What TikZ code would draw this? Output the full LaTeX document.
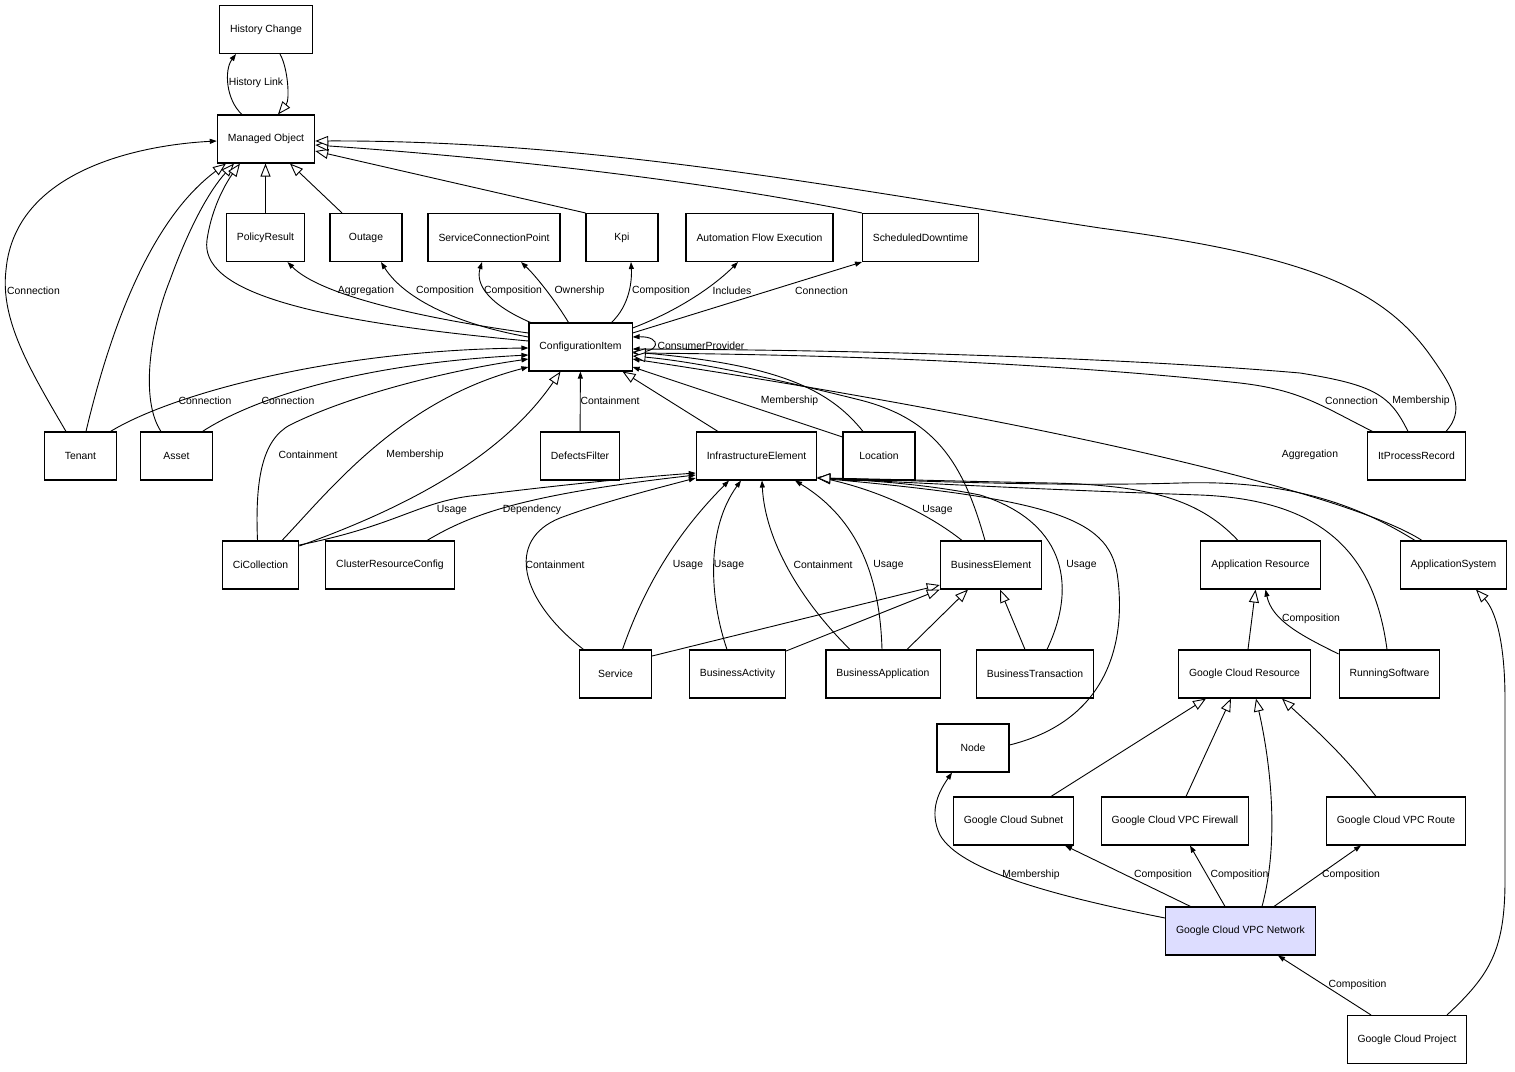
\documentclass[tikz,border=0pt]{standalone}
\usepackage{fontspec}
\setmainfont{Liberation Sans}
\usetikzlibrary{arrows.meta}
\definecolor{vpcfill}{RGB}{221,221,255}
\tikzset{
  box/.style={draw, line width=1.1pt, rectangle, minimum width=72pt, minimum height=48pt,
    inner xsep=10.5pt, font=\fontsize{10.4}{12}\selectfont},
  lbl/.style={inner sep=0pt, font=\fontsize{10.4}{12}\selectfont},
  assoc/.style={line width=0.9pt, -{Triangle[length=7pt,width=5pt]}},
  inherit/.style={line width=0.9pt, -{Triangle[length=13pt,width=10pt,fill=white]}}
}
\begin{document}
\begin{tikzpicture}[x=1pt,y=-1pt]
      \fill[white] (0,0) rectangle (1515,1071);
      \useasboundingbox (0,0) rectangle (1515,1071);
      % classes
      \node[box] (hc) at (266,29.5) {History Change};
      \node[box] (mo) at (266,139) {Managed Object};
      \node[box] (pr) at (265.5,237.5) {PolicyResult};
      \node[box] (outg) at (366,237.5) {Outage};
      \node[box] (scp) at (494,237.5) {ServiceConnectionPoint};
      \node[box] (kpi) at (622,237.5) {Kpi};
      \node[box] (afe) at (759.5,237.5) {Automation Flow Execution};
      \node[box] (sd) at (920.5,237.5) {ScheduledDowntime};
      \node[box] (ci) at (580.5,347) {ConfigurationItem};
      \node[box] (ten) at (80.5,456) {Tenant};
      \node[box] (ast) at (176.5,456) {Asset};
      \node[box] (df) at (580,456) {DefectsFilter};
      \node[box] (ie) at (756.5,456) {InfrastructureElement};
      \node[box] (loc) at (879,456) {Location};
      \node[box] (ipr) at (1416.5,456) {ItProcessRecord};
      \node[box] (cic) at (260.5,565) {CiCollection};
      \node[box] (crc) at (390,565) {ClusterResourceConfig};
      \node[box] (be) at (991,565) {BusinessElement};
      \node[box] (ar) at (1260.5,565) {Application Resource};
      \node[box] (asys) at (1453.5,565) {ApplicationSystem};
      \node[box] (svc) at (615.5,674) {Service};
      \node[box] (ba) at (737.5,674) {BusinessActivity};
      \node[box] (bapp) at (883,674) {BusinessApplication};
      \node[box] (bt) at (1035,674) {BusinessTransaction};
      \node[box] (gcr) at (1244.5,674) {Google Cloud Resource};
      \node[box] (rs) at (1389.5,674) {RunningSoftware};
      \node[box] (nd) at (973,748) {Node};
      \node[box] (sub) at (1013.5,821) {Google Cloud Subnet};
      \node[box] (fw) at (1175,821) {Google Cloud VPC Firewall};
      \node[box] (rt) at (1396,821) {Google Cloud VPC Route};
      \node[box, fill=vpcfill] (vpc) at (1240.5,931) {Google Cloud VPC Network};
      \node[box] (gcp) at (1407,1039.5) {Google Cloud Project};
      % relations
      \begin{scope}[assoc]
        \draw ([xshift=-24pt]mo.north) .. controls (226,100) and (224,70) .. ([xshift=-30pt]hc.south);
        \draw ([xshift=-14.5pt]ten.north) .. controls (30,370) and (0,320) .. (6,270)
          .. controls (15,170) and (140,145) .. ([yshift=-2pt]mo.west);
        \draw ([yshift=14pt]ci.west) .. controls (420,318) and (320,295) .. ([xshift=22pt]pr.south);
        \draw ([yshift=10pt]ci.west) .. controls (460,325) and (405,300) .. ([xshift=15pt]outg.south);
        \draw ([xshift=-50pt]ci.north) .. controls (490,305) and (475,285) .. ([xshift=-12pt]scp.south);
        \draw ([xshift=-12pt]ci.north) .. controls (555,300) and (535,275) .. ([xshift=27pt]scp.south);
        \draw ([xshift=31pt]ci.north) .. controls (630,305) and (632,280) .. ([xshift=9pt]kpi.south);
        \draw ([yshift=19pt]ci.east) .. controls (680,310) and (715,285) .. ([xshift=-21.5pt]afe.south);
        \draw ([yshift=14pt]ci.east) -- ([xshift=-58.5pt]sd.south);
        \draw ([yshift=-5pt]ci.east) .. controls (662,354) and (662,336) .. ([yshift=10pt]ci.east);
        \draw ([xshift=30pt]ten.north) .. controls (170,395) and (330,350) .. ([yshift=-1pt]ci.west);
        \draw ([xshift=26pt]ast.north) .. controls (235,410) and (330,365) .. ([yshift=-8pt]ci.west);
        \draw ([xshift=-3pt]cic.north) .. controls (255,480) and (262,440) .. (290,425)
          .. controls (350,395) and (450,370) .. ([yshift=-12pt]ci.west);
        \draw ([xshift=21.5pt]cic.north) .. controls (330,490) and (400,400) .. ([yshift=-20pt]ci.west);
        \draw (df) -- (ci);
        \draw ([yshift=19pt]loc.west) -- ([yshift=-20pt]ci.east);
        \draw ([xshift=-44pt]ipr.north) .. controls (1320,405) and (1300,390) .. (1240,383)
          .. controls (1100,368) and (900,355) .. ([yshift=-6pt]ci.east);
        \draw ([xshift=-8.5pt]ipr.north) .. controls (1390,395) and (1375,385) .. (1300,373)
          .. controls (1150,360) and (900,350) .. ([yshift=-2pt]ci.east);
        \draw ([xshift=-31.5pt]asys.north) .. controls (1360,500) and (1100,430) .. ([yshift=-12pt]ci.east);
        \draw ([yshift=20pt]cic.east) .. controls (400,525) and (420,500) .. (480,495)
          .. controls (560,485) and (640,477) .. ([yshift=-17pt]ie.west);
        \draw ([xshift=37pt]crc.north) .. controls (470,515) and (520,495) .. ([yshift=-19pt]ie.west);
        \draw ([xshift=-32pt]svc.north) .. controls (520,600) and (505,540) .. (560,518)
          .. controls (600,503) and (650,490) .. ([yshift=-22pt]ie.west);
        \draw ([xshift=7pt]svc.north) .. controls (650,570) and (690,520) .. ([xshift=-27.5pt]ie.south);
        \draw ([xshift=-10.5pt]ba.north) .. controls (710,600) and (705,530) .. ([xshift=-15.5pt]ie.south);
        \draw ([xshift=-33pt]bapp.north) .. controls (800,600) and (765,540) .. ([xshift=5.5pt]ie.south);
        \draw ([xshift=-1pt]bapp.north) .. controls (880,580) and (860,520) .. ([xshift=38.5pt]ie.south);
        \draw ([xshift=-29pt]be.north) .. controls (930,515) and (880,490) .. ([yshift=-21pt]ie.east);
        \draw ([xshift=12pt]bt.north) .. controls (1080,580) and (1060,520) .. (980,495)
          .. controls (920,483) and (860,480) .. ([yshift=-22pt]ie.east);
        \draw ([yshift=20pt]rs.west) .. controls (1300,635) and (1272,620) .. ([xshift=5pt]ar.south);
        \draw ([xshift=-50pt]vpc.north) -- ([xshift=51.5pt]sub.south);
        \draw ([xshift=-15.5pt]vpc.north) -- ([xshift=15pt]fw.south);
        \draw ([xshift=33.5pt]vpc.north) -- ([xshift=-35pt]rt.south);
        \draw ([yshift=13pt]vpc.west) .. controls (1050,895) and (960,870) .. (940,835)
          .. controls (928,810) and (940,790) .. ([xshift=-21pt]nd.south);
        \draw ([xshift=-36pt]gcp.north) -- ([xshift=37.5pt]vpc.south);
      \end{scope}
      % generalisations
      \begin{scope}[inherit]
        \draw ([xshift=14pt]hc.south) .. controls (288,68) and (290,100) .. ([xshift=12pt]mo.north);
        \draw ([xshift=5.5pt]ten.north) .. controls (110,330) and (150,220) .. ([xshift=-40pt]mo.south);
        \draw ([xshift=-15.5pt]ast.north) .. controls (140,400) and (150,330) .. (170,280)
          .. controls (190,225) and (210,190) .. ([xshift=-32pt]mo.south);
        \draw ([yshift=6pt]ci.west) .. controls (300,320) and (200,290) .. (207,240)
          .. controls (212,205) and (228,180) .. ([xshift=-26pt]mo.south);
        \draw (pr.north) -- (pr.north |- mo.south);
        \draw ([xshift=-24pt]outg.north) -- ([xshift=24pt]mo.south);
        \draw (kpi.north west) -- ([yshift=-12pt]mo.east);
        \draw (sd.north west) .. controls (700,180) and (500,158) .. ([yshift=-6pt]mo.east);
        \draw ([xshift=29.5pt]ipr.north) .. controls (1465,410) and (1455,390) .. (1430,355)
          .. controls (1380,285) and (1300,255) .. (1100,228)
          .. controls (850,190) and (600,140) .. ([yshift=-2pt]mo.east);
        \draw ([yshift=19pt]cic.east) .. controls (400,510) and (500,460) .. ([xshift=-20pt]ci.south);
        \draw ([xshift=-38.5pt]ie.north) -- ([xshift=42pt]ci.south);
        \draw ([xshift=-16pt]loc.north) .. controls (830,390) and (780,365) .. ([yshift=-5pt]ci.east);
        \draw ([xshift=-6pt]be.north) .. controls (965,470) and (940,420) .. (860,400)
          .. controls (780,380) and (700,362) .. ([yshift=-9pt]ci.east);
        \draw ([yshift=3pt]nd.east) .. controls (1110,720) and (1125,640) .. (1118,580)
          .. controls (1112,520) and (1060,500) .. ([yshift=-22pt]ie.east);
        \draw ([xshift=-22.5pt]ar.north) .. controls (1200,500) and (1150,485) .. (1050,483)
          .. controls (950,481) and (880,479) .. ([yshift=-22pt]ie.east);
        \draw ([xshift=-2.5pt]rs.north) .. controls (1375,560) and (1330,500) .. (1200,495)
          .. controls (1050,490) and (900,482) .. ([yshift=-22pt]ie.east);
        \draw ([xshift=-38.5pt]asys.north) .. controls (1350,500) and (1280,480) .. (1180,483)
          .. controls (1050,487) and (900,480) .. ([yshift=-22pt]ie.east);
        \draw ([yshift=18pt]svc.east) -- ([yshift=-20pt]be.west);
        \draw ([yshift=23pt]ba.east) -- (be.south west);
        \draw ([xshift=24pt]bapp.north) -- ([xshift=-23pt]be.south);
        \draw ([xshift=-10pt]bt.north) -- ([xshift=9pt]be.south);
        \draw ([xshift=3.5pt]gcr.north) -- ([xshift=-5pt]ar.south);
        \draw ([xshift=37.5pt]sub.north) -- ([xshift=-38.5pt]gcr.south);
        \draw ([xshift=11pt]fw.north) -- ([xshift=-13.5pt]gcr.south);
        \draw ([xshift=21.5pt]vpc.north) .. controls (1280,840) and (1270,760) .. ([xshift=11.5pt]gcr.south);
        \draw ([xshift=-20pt]rt.north) .. controls (1340,750) and (1310,725) .. ([xshift=37.5pt]gcr.south);
        \draw ([xshift=40pt]gcp.north) .. controls (1490,975) and (1505,950) .. (1505,880)
          -- (1505,700) .. controls (1505,640) and (1495,610) .. ([xshift=22.5pt]asys.south);
      \end{scope}
      % relation names
      \node[lbl] (lhist) at (256,83) {History Link};
      \node[lbl] (lten) at (33.5,291) {Connection};
      \node[lbl] (lpr) at (366,291) {Aggregation};
      \node[lbl] (lout) at (445,291) {Composition};
      \node[lbl] (lscpa) at (513,291) {Composition};
      \node[lbl] (lscpb) at (579.5,291) {Ownership};
      \node[lbl] (lkpi) at (661,291) {Composition};
      \node[lbl] (lafe) at (732,291) {Includes};
      \node[lbl] (lsd) at (821.5,291) {Connection};
      \node[lbl] (lself) at (701,346) {ConsumerProvider};
      \node[lbl] (ltenci) at (205,401) {Connection};
      \node[lbl] (lastci) at (288,401) {Connection};
      \node[lbl] (ldf) at (610,401) {Containment};
      \node[lbl] (lloc) at (789.5,401) {Membership};
      \node[lbl] (liprc) at (1351.5,401) {Connection};
      \node[lbl] (liprm) at (1421,401) {Membership};
      \node[lbl] (lcicc) at (308,455) {Containment};
      \node[lbl] (lcicm) at (415,455) {Membership};
      \node[lbl] (lasys) at (1310,455) {Aggregation};
      \node[lbl] (lcicu) at (452,510) {Usage};
      \node[lbl] (lcrc) at (532,510) {Dependency};
      \node[lbl] (lbeu) at (937.5,510) {Usage};
      \node[lbl] (lsvcc) at (555,565) {Containment};
      \node[lbl] (lsvcu) at (688,565) {Usage};
      \node[lbl] (lbau) at (729,565) {Usage};
      \node[lbl] (lbappc) at (823,565) {Containment};
      \node[lbl] (lbappu) at (888.5,565) {Usage};
      \node[lbl] (lbtu) at (1081.5,565) {Usage};
      \node[lbl] (lrs) at (1311,619) {Composition};
      \node[lbl] (lnd) at (1031,875) {Membership};
      \node[lbl] (lsub) at (1163,875) {Composition};
      \node[lbl] (lfw) at (1239.5,875) {Composition};
      \node[lbl] (lrt) at (1351,875) {Composition};
      \node[lbl] (lgcp) at (1357.5,985) {Composition};
    \end{tikzpicture}
\end{document}
